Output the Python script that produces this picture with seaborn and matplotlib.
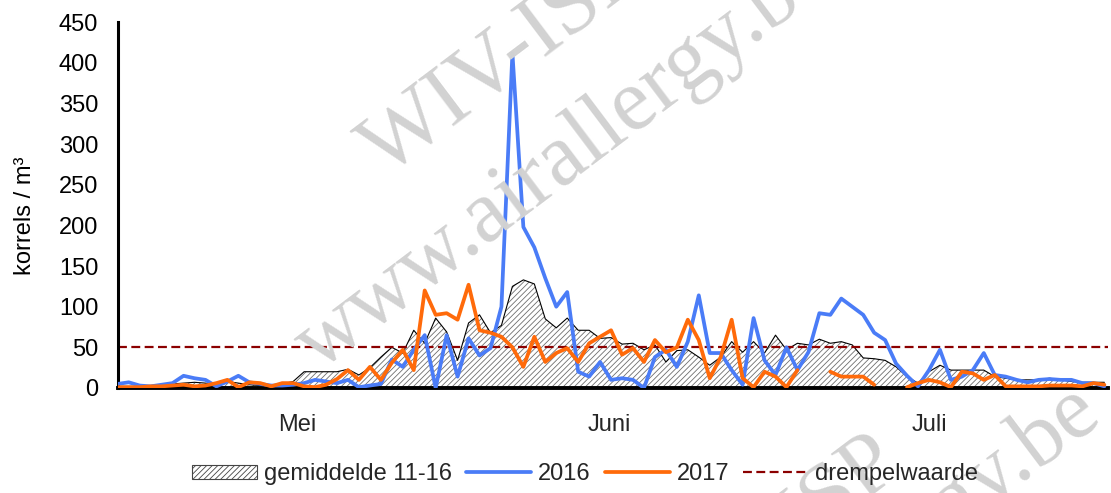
import matplotlib.pyplot as plt
import matplotlib.patches as mpatches
from matplotlib.lines import Line2D
import numpy as np
import pandas as pd
import seaborn as sns

# =================================================================================================================== #
# daily pollen counts (korrels / m3), day 0 = 1 mei
gemiddelde = [2, 2, 2, 3, 4, 5, 6, 7, 6, 4, 8, 6, 4, 3, 4, 5,
              8, 20, 20, 20, 20, 23, 16, 25, 38, 50, 43, 71, 55, 86, 69,
              34, 80, 90, 68, 77, 125, 133, 128, 85, 74, 86, 71, 71, 61, 62,
              54, 55, 47, 53, 32, 46, 47, 38, 28, 38, 57, 44, 57, 43, 65,
              47, 55, 53, 60, 55, 57, 53, 37, 36, 34, 26, 14, 6, 20, 28,
              22, 22, 22, 22, 14, 12, 10, 10, 10, 12, 10, 8, 7, 7, 7]
pollen_2016 = [5, 7, 3, 2, 4, 6, 15, 12, 10, 2, 8, 15, 7, 5, 3, 3,
               4, 6, 10, 8, 6, 10, 1, 3, 5, 35, 26, 47, 65, 0, 65,
               14, 61, 40, 49, 100, 412, 198, 173, 135, 100, 118, 20, 14, 32, 10,
               12, 10, 0, 38, 47, 26, 57, 114, 43, 43, 22, 4, 86, 34, 16,
               50, 22, 44, 92, 90, 110, 100, 90, 68, 59, 30, 15, 2, 22, 47,
               10, 14, 22, 43, 16, 14, 10, 7, 10, 11, 10, 10, 6, 6, 2]
pollen_2017 = [1, 1, 1, 2, 2, 3, 4, 2, 3, 6, 10, 1, 7, 6, 2, 6,
               6, 2, 1, 4, 11, 22, 10, 26, 10, 31, 47, 22, 120, 90, 92,
               84, 127, 71, 68, 63, 50, 26, 63, 32, 43, 49, 32, 55, 63, 71,
               41, 49, 32, 59, 44, 50, 84, 59, 12, 38, 84, 12, 1, 20, 14,
               1, 22, None, None, 20, 14, 14, 14, 4, None, None, 1, 6, 10, 7,
               1, 20, 18, 10, 16, 2, 2, 2, 2, 3, 3, 3, 2, 6, 4]
drempelwaarde = 50

month_starts = [0, 31, 61]
month_label_pos = [16.4, 44.8, 74]
month_labels = ['Mei', 'Juni', 'Juli']
y_ticks = list(range(0, 451, 50))

BLUE = '#4a7cf7'
ORANGE = '#ff6a0a'
DARKRED = '#8b0000'
# =================================================================================================================== #

df = pd.DataFrame({'dag': np.arange(len(gemiddelde)),
                   'gemiddelde': gemiddelde,
                   '2016': pollen_2016,
                   '2017': pd.array(pollen_2017, dtype='Float64')})
df['2017'] = df['2017'].astype(float)
df['segment'] = df['2017'].isna().cumsum()
df17 = df.dropna(subset=['2017'])

sns.set_theme(style='white')
plt.rcParams['font.family'] = ['Liberation Sans', 'DejaVu Sans']
plt.rcParams['hatch.linewidth'] = 0.6
FS = 17

fig, ax = plt.subplots(figsize=(11.11, 4.93), dpi=100)
fig.subplots_adjust(left=0.106, right=0.997, bottom=0.213, top=0.955)

# watermark
wm = dict(family=['Liberation Serif', 'DejaVu Serif'], fontsize=64, color='#d2d2d2',
          rotation=37, rotation_mode='anchor', zorder=0)
fig.text(385 / 1111, 1 - 178 / 493, 'WIV-ISP', ha='left', va='baseline', **wm)
fig.text(318 / 1111, 1 - 372 / 493, 'www.airallergy.be', ha='left', va='baseline', **wm)
fig.text(905 / 1111, 1 - 472 / 493, 'WIV-ISP', ha='right', va='baseline', **wm)
fig.text(1105 / 1111, 1 - 420 / 493, 'www.airallergy.be', ha='right', va='baseline', **wm)
ax.patch.set_alpha(0)

ax.fill_between(df['dag'], df['gemiddelde'], facecolor='white', edgecolor='#6e6e6e',
                hatch='//////', lw=0, zorder=1)
sns.lineplot(data=df, x='dag', y='gemiddelde', color='black', lw=0.8, ax=ax, zorder=2)
ax.axhline(drempelwaarde, color=DARKRED, ls=(0, (4, 2)), lw=1.6, zorder=2.5)
sns.lineplot(data=df, x='dag', y='2016', color=BLUE, lw=2.7, ax=ax, zorder=3)
sns.lineplot(data=df17, x='dag', y='2017', units='segment', estimator=None,
             color=ORANGE, lw=2.7, ax=ax, zorder=4)

ax.set_xlim(0, 90.3)
ax.set_ylim(0, 450)
ax.set_yticks(y_ticks)
ax.set_xticks(month_starts)
ax.set_xticklabels([])
ax.set_xticks(month_label_pos, minor=True)
ax.set_xticklabels(month_labels, minor=True, fontsize=FS)
ax.tick_params(axis='x', which='major', direction='out', length=6, width=2.5, color='black')
ax.tick_params(axis='x', which='minor', length=0, pad=19)
ax.tick_params(axis='y', direction='out', length=6, width=1.8, color='black', labelsize=FS, pad=8)
ax.tick_params(axis='both', labelcolor='black')

for side in ['top', 'right']:
    ax.spines[side].set_visible(False)
ax.spines['left'].set_linewidth(2.2)
ax.spines['bottom'].set_linewidth(2.8)
ax.spines['left'].set_color('black')
ax.spines['bottom'].set_color('black')

ax.set_xlabel('')
ax.set_ylabel('korrels / m³', fontsize=FS, color='black')
ax.yaxis.set_label_coords(-0.083, 0.47)

handles = [mpatches.Patch(facecolor='white', edgecolor='#444444', hatch='//////', lw=0.8),
           Line2D([], [], color=BLUE, lw=2.7),
           Line2D([], [], color=ORANGE, lw=2.7),
           Line2D([], [], color=DARKRED, ls=(0, (4, 2)), lw=1.6)]
labels = ['gemiddelde 11-16', '2016', '2017', 'drempelwaarde']
fig.legend(handles, labels, loc='center', bbox_to_anchor=(585 / 1111, 1 - 474 / 493), ncol=4,
           frameon=False, fontsize=FS, handlelength=2.75, handletextpad=0.3, columnspacing=0.6,
           handleheight=0.55)

plt.savefig('out.png', dpi=100)
plt.close()
